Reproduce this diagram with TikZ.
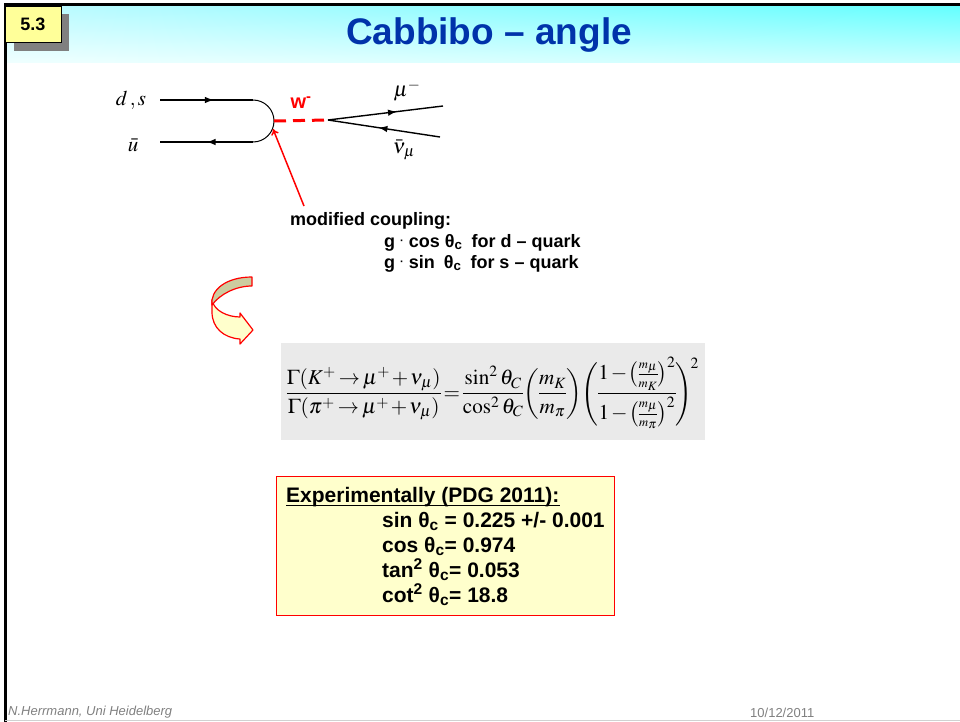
\documentclass[tikz,border=0pt]{standalone}
\usepackage{mathptmx}
\usepackage[no-math]{fontspec}
\setmainfont{Liberation Sans}
\usepackage{graphicx}
\usepackage{xcolor}
\usetikzlibrary{positioning,arrows.meta,calc,decorations.markings,shadings}

\definecolor{titleblue}{RGB}{0,51,170}
\definecolor{badgeyellow}{RGB}{255,255,153}
\definecolor{shadowgray}{RGB}{128,128,128}
\definecolor{boxyellow}{RGB}{255,255,204}
\definecolor{formulagray}{RGB}{234,234,234}
\definecolor{turnolive}{RGB}{204,204,160}
\definecolor{footgray}{RGB}{128,128,128}
\definecolor{hdrUL}{RGB}{190,250,255}
\definecolor{hdrUR}{RGB}{100,255,255}
\definecolor{hdrLL}{RGB}{240,255,255}
\definecolor{hdrLR}{RGB}{200,255,255}

\begin{document}
\begin{tikzpicture}[x=1pt, y=-1pt,
  font=\fontsize{18}{21}\selectfont,
  txt/.style={inner sep=0pt, anchor=base west, font=\fontsize{18}{21}\selectfont\bfseries},
  exptxt/.style={inner sep=0pt, anchor=base west, font=\fontsize{21}{25}\selectfont\bfseries},
  foot/.style={inner sep=0pt, anchor=base west, text=footgray},
  lbl/.style={inner sep=0pt, font=\fontsize{21}{24}\selectfont},
  ferm/.style={line width=1.4pt, postaction={decorate},
    decoration={markings, mark=at position #1 with {\arrow{Latex[length=9pt,width=6.5pt]}}}},
  wprop/.style={red, line width=3pt, dash pattern=on 12pt off 7pt},
  turn/.style={draw=red, line width=1.2pt, line join=round}
]
\useasboundingbox (0,0) rectangle (960,722);

% header
\shade[upper left=hdrUL, upper right=hdrUR, lower left=hdrLL, lower right=hdrLR] (6,6) rectangle (960,63);
\draw[line width=3pt] (960,5) -- (5.5,5) -- (5.5,722);
\draw[black!18, line width=1.5pt] (5,720.5) -- (960,720.5);
\fill[shadowgray] (14,14) rectangle (69,51);
\node[draw, fill=badgeyellow, line width=0.8pt, inner sep=0pt, anchor=north west,
      minimum width=56pt, minimum height=36pt] (badge) at (4.5,6)
      {\fontsize{18}{20}\selectfont\bfseries 5.3};
\node[font=\fontsize{37}{40}\selectfont\bfseries, text=titleblue, anchor=base] (title) at (489,45) {Cabbibo – angle};

% diagram
\coordinate (qtl) at (160,100);
\coordinate (qtr) at (253,100);
\coordinate (qbl) at (160,142);
\coordinate (qbr) at (253,142);
\coordinate (vq) at (274,121);
\coordinate (vl) at (328,120);
\coordinate (mue) at (443,106);
\coordinate (nue) at (440,137);
\coordinate (arcpt) at (273,129);
\coordinate (cpltail) at (304,206);

\draw[ferm=0.58] (qtl) -- (qtr);
\draw[ferm=0.5] (qbr) -- (qbl);
\draw[line width=1pt] (qtr) arc[start angle=-90, end angle=90, radius=21];
\draw[wprop] (vq) -- (vl);
\draw[ferm=0.6] (vl) -- (mue);
\draw[ferm=0.55] (nue) -- (vl);
\draw[red, line width=1.5pt, -{To[length=6pt,width=8pt]}] (cpltail) -- (arcpt);

\node[lbl] (ds) at (131,100) {$d\,,s$};
\node[lbl] (ub) at (133,145) {$\bar u$};
\node[lbl] (mu) at (407,91) {$\mu^-$};
\node[lbl] (nu) at (404,150) {$\bar\nu_\mu$};
\node[inner sep=0pt, text=red, font=\fontsize{20}{22}\selectfont\bfseries] (wlab) at (301,103) {w\textsuperscript{-}};

\node[txt] (cpl) at (290,225) {modified coupling:};
\node[txt] (cplcos) at (384,247) {g \raisebox{3pt}{\fontsize{11}{11}\selectfont·} cos θ\textsubscript{c}\enspace for d – quark};
\node[txt] (cplsin) at (384,268) {g \raisebox{3pt}{\fontsize{11}{11}\selectfont·} sin\enspace θ\textsubscript{c}\enspace for s – quark};

% turn arrow
\path[turn, fill=boxyellow] (212,300) .. controls (214,311) and (228,317) .. (240,317) -- (240,313)
  -- (253,330) -- (240,344) -- (240,339) .. controls (224,338) and (212,328) .. (212,312) -- cycle;
\path[turn, fill=turnolive] (252,277) .. controls (226,277) and (210,290) .. (212,305)
  .. controls (220,294) and (236,286) .. (252,286) -- cycle;

% formula
\node[fill=formulagray, minimum width=424pt, minimum height=97pt, inner sep=0pt] (gbox) at (493,391.5) {};
\node[inner sep=0pt] (ratio) at (493,393) {\medmuskip=1.5mu\thickmuskip=2.5mu\nulldelimiterspace=0pt
  \resizebox{412pt}{!}{$\displaystyle
  \frac{\Gamma(K^{+}\rightarrow\mu^{+}+\nu_{\mu})}{\Gamma(\pi^{+}\rightarrow\mu^{+}+\nu_{\mu})}
  =\frac{\sin^{2}\theta_{C}}{\cos^{2}\theta_{C}}\!\left(\frac{m_{K}}{m_{\pi}}\right)\!
  \Biggl(\frac{1-\bigl(\frac{\scriptscriptstyle m_{\mu}}{\scriptscriptstyle m_{K}}\bigr)^{2}}{1-\bigl(\frac{\scriptscriptstyle m_{\mu}}{\scriptscriptstyle m_{\pi}}\bigr)^{2}}\Biggr)^{\!2}$}};

% results
\node[draw=red, fill=boxyellow, line width=1pt, minimum width=338pt, minimum height=139pt] (expbox) at (445,545.5) {};
\node[exptxt] (exphead) at (286,502) {Experimentally (PDG 2011):};
\draw[line width=1.3pt] ([yshift=-3.5pt]exphead.base west) -- ([yshift=-3.5pt]exphead.base east);
\node[exptxt] (expsin) at (382,527) {sin θ\textsubscript{c} = 0.225 +/- 0.001};
\node[exptxt] (expcos) at (382,552) {cos θ\textsubscript{c}= 0.974};
\node[exptxt] (exptan) at (382,577) {tan\textsuperscript{2} θ\textsubscript{c}= 0.053};
\node[exptxt] (expcot) at (382,602) {cot\textsuperscript{2} θ\textsubscript{c}= 18.8};

% footer
\node[foot, font=\fontsize{13}{14}\selectfont\itshape] (author) at (8,715) {N.Herrmann, Uni Heidelberg};
\node[foot, font=\fontsize{13}{14}\selectfont] (date) at (750,717) {10/12/2011};
\end{tikzpicture}
\end{document}
